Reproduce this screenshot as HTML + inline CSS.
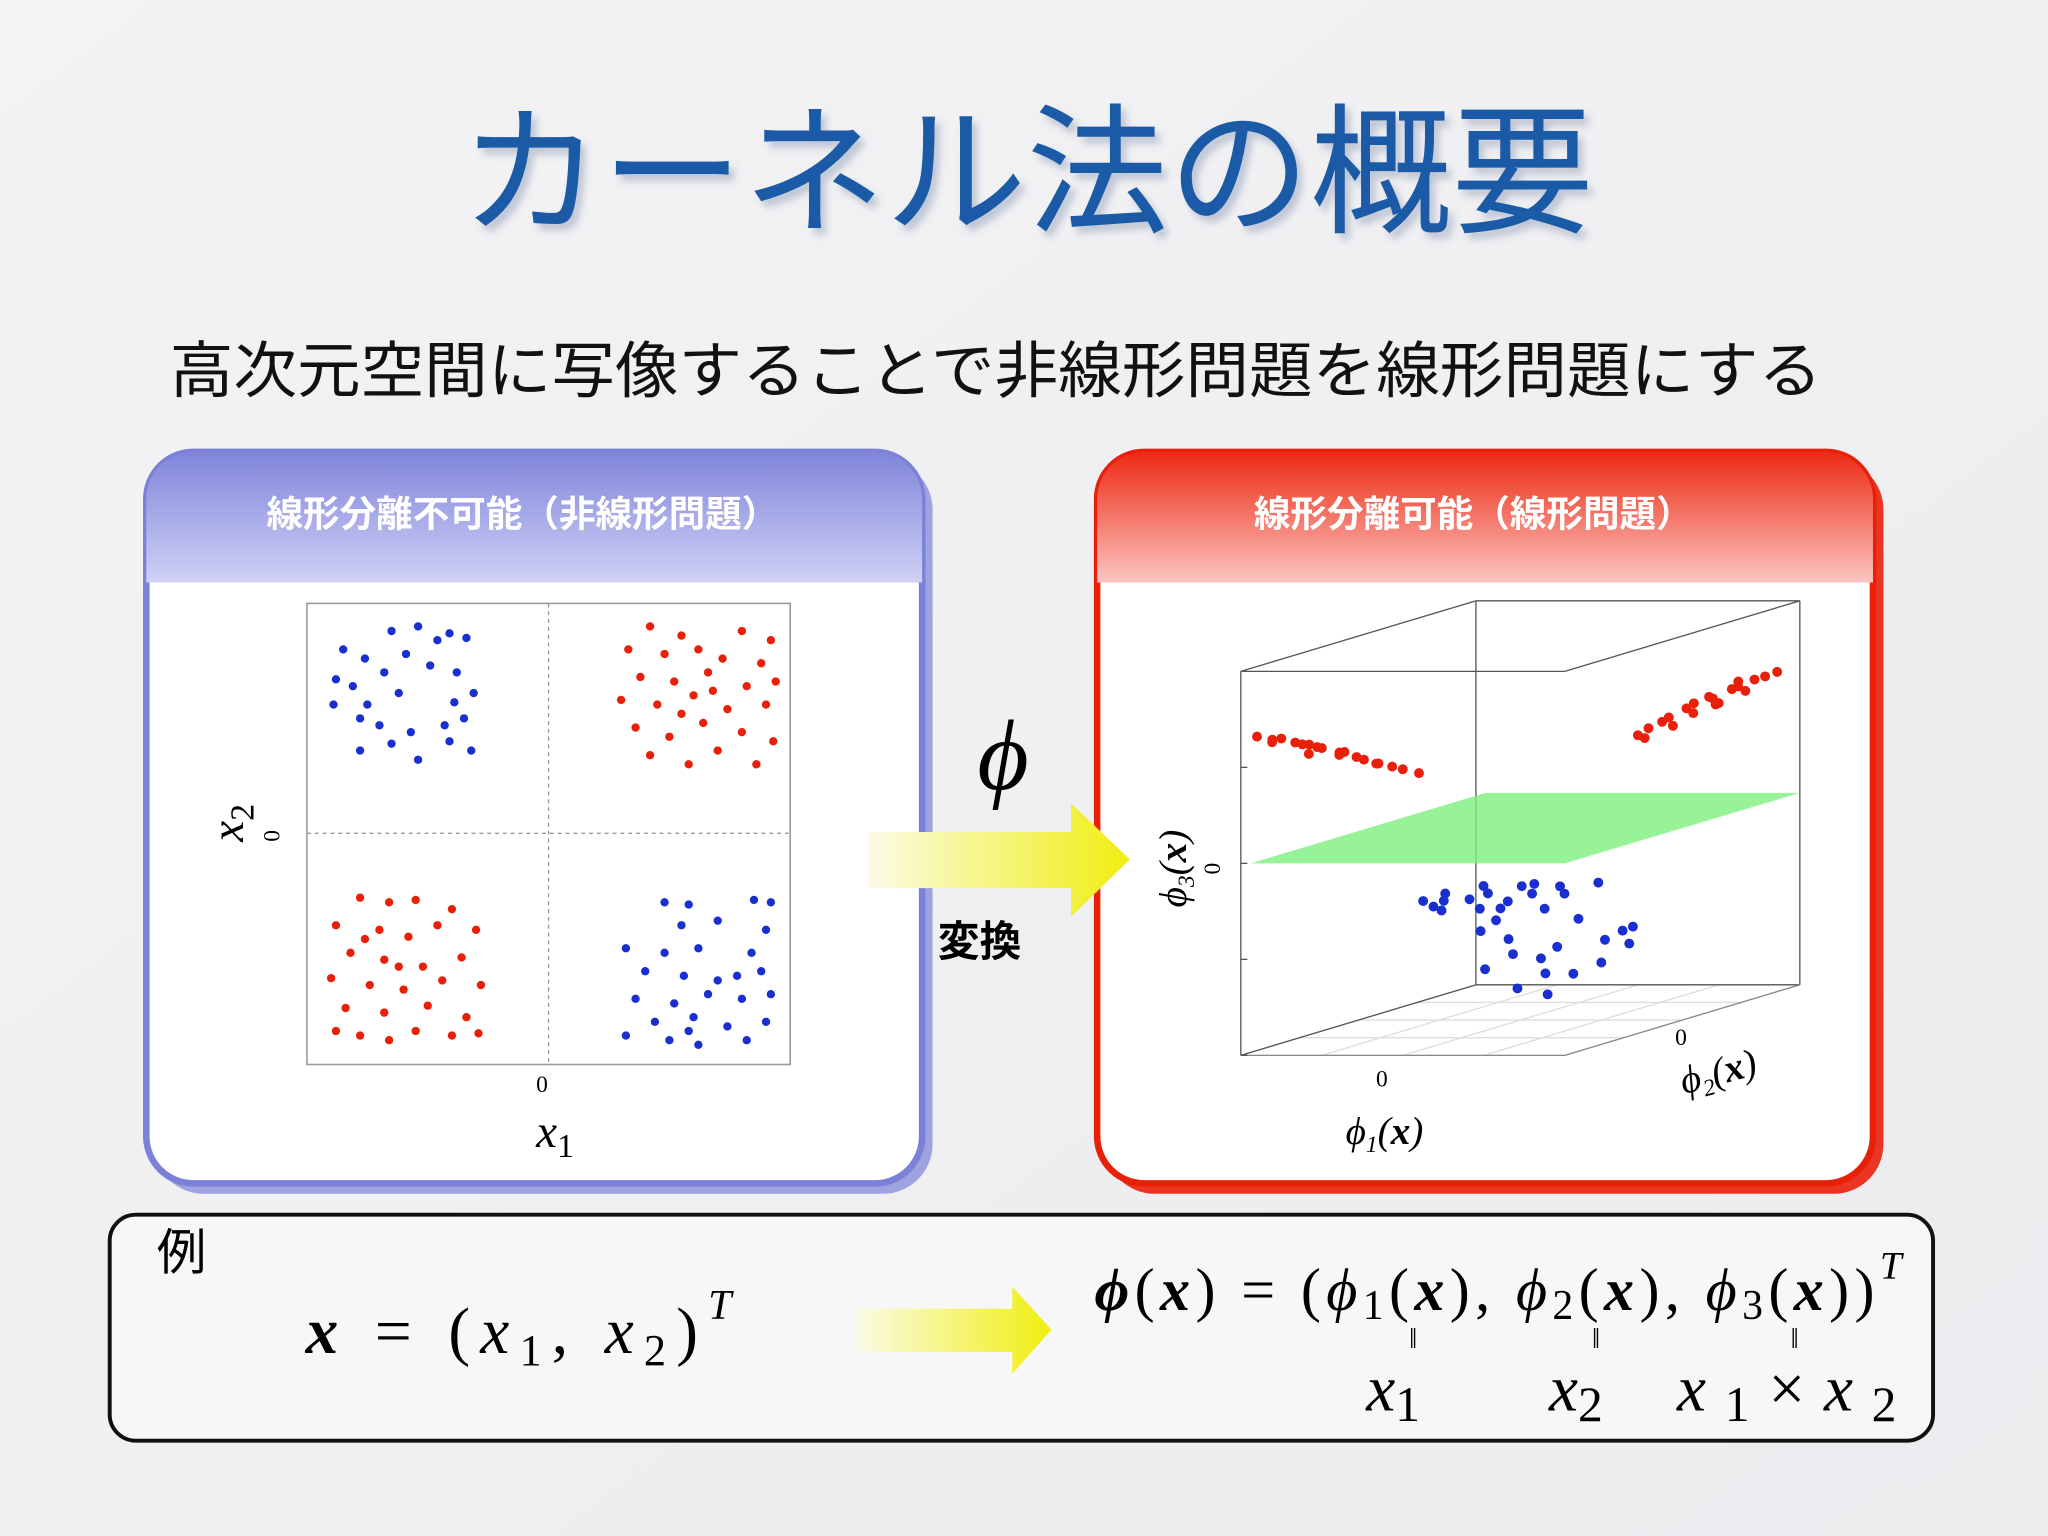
<!DOCTYPE html>
<html><head><meta charset="utf-8"><style>
html,body{margin:0;padding:0;background:#f1f1f3;}
svg{display:block;}
.jp{font-family:"Liberation Sans","Noto Sans CJK JP",sans-serif;}
.m{font-family:"Liberation Serif","DejaVu Serif",serif;font-style:italic;}
.r{font-family:"Liberation Serif","DejaVu Serif",serif;}
</style></head><body>
<svg id="s" width="2048" height="1536" viewBox="0 0 1568 1176" xmlns="http://www.w3.org/2000/svg">
<defs>
<linearGradient id="bg" x1="0" y1="0" x2="1" y2="1"><stop offset="0" stop-color="#f3f3f5"/><stop offset="1" stop-color="#ececef"/></linearGradient>
<linearGradient id="hb" x1="0" y1="0" x2="0" y2="1"><stop offset="0" stop-color="#8085da"/><stop offset="1" stop-color="#cfd1f5"/></linearGradient>
<linearGradient id="hr" x1="0" y1="0" x2="0" y2="1"><stop offset="0" stop-color="#ec2a12"/><stop offset="1" stop-color="#fbc4c0"/></linearGradient>
<linearGradient id="ar" x1="0" y1="0" x2="1" y2="0"><stop offset="0" stop-color="#fbfbe6"/><stop offset="1" stop-color="#f0ee10"/></linearGradient>
<filter id="sh"><feGaussianBlur stdDeviation="3"/></filter>
</defs>
<rect width="1568" height="1176" fill="url(#bg)"/>
<text x="352" y="170" textLength="868" lengthAdjust="spacingAndGlyphs" class="jp" font-size="108" fill="#9aa6bd" opacity="0.6" filter="url(#sh)" transform="translate(4,5)">カーネル法の概要</text>
<text x="352" y="170" textLength="868" lengthAdjust="spacingAndGlyphs" class="jp" font-size="108" fill="#1b5aa6">カーネル法の概要</text>
<text x="130" y="300" textLength="1265" lengthAdjust="spacingAndGlyphs" class="jp" font-size="47" fill="#111">高次元空間に写像することで非線形問題を線形問題にする</text>

<g>
<rect x="118" y="352" width="596" height="562" rx="38" fill="#8a8fd8" opacity="0.8"/>
<rect x="112" y="346" width="594" height="560" rx="36" fill="#fff" stroke="#7b80d8" stroke-width="5"/>
<path d="M112,446 V382 A36,36 0 0 1 148,346 H670 A36,36 0 0 1 706,382 V446 Z" fill="url(#hb)"/>
<text x="400" y="403" text-anchor="middle" class="jp" font-size="28" font-weight="bold" fill="#fff">線形分離不可能（非線形問題）</text>
</g>
<g>
<rect x="846" y="352" width="596" height="562" rx="38" fill="#e8200a" opacity="0.9"/>
<rect x="840" y="346" width="594" height="560" rx="36" fill="#fff" stroke="#e8200a" stroke-width="5"/>
<path d="M840,446 V382 A36,36 0 0 1 876,346 H1398 A36,36 0 0 1 1434,382 V446 Z" fill="url(#hr)"/>
<text x="1128" y="403" text-anchor="middle" class="jp" font-size="28" font-weight="bold" fill="#fff">線形分離可能（線形問題）</text>
</g>

<g id="left-chart">
<rect x="235" y="462" width="370" height="353" fill="#fff" stroke="#999" stroke-width="1.2"/>
<line x1="420" y1="462" x2="420" y2="815" stroke="#999" stroke-dasharray="3,3"/>
<line x1="235" y1="638" x2="605" y2="638" stroke="#999" stroke-dasharray="3,3"/>
<text x="415" y="836" text-anchor="middle" class="r" font-size="18">0</text>
<text x="425" y="878" text-anchor="middle" class="m" font-size="36">x<tspan font-style="normal" font-size="26" dy="8">1</tspan></text>
<text transform="translate(214,640) rotate(-90)" text-anchor="middle" class="r" font-size="18">0</text>
<text transform="translate(186,630) rotate(-90)" text-anchor="middle" class="m" font-size="36">x<tspan font-style="normal" font-size="26" dy="8">2</tspan></text>
</g>

<g id="right-chart"></g>

<g>
<polygon points="665,637 820,637 820,615 865,658 820,702 820,680 665,680" fill="url(#ar)"/>
<text x="768" y="604" text-anchor="middle" class="m" font-size="76">ϕ</text>
<text x="750" y="732" text-anchor="middle" class="jp" font-size="32" font-weight="bold">変換</text>
</g>

<g>
<rect x="84" y="930" width="1396" height="173" rx="20" fill="#f7f7f9" stroke="#111" stroke-width="3"/>
<text x="120" y="972" class="jp" font-size="38">例</text>
<text x="234" y="1036" textLength="326" lengthAdjust="spacing" class="m" font-size="50"><tspan font-weight="bold">x</tspan><tspan font-style="normal"> = (</tspan>x<tspan font-style="normal" font-size="34" dy="9">1</tspan><tspan font-style="normal" dy="-9">, </tspan>x<tspan font-style="normal" font-size="34" dy="9">2</tspan><tspan font-style="normal" dy="-9">)</tspan><tspan font-size="32" dy="-26">T</tspan></text>
<polygon points="655,1002 775,1002 775,985 805,1018 775,1052 775,1035 655,1035" fill="url(#ar)"/>
<text x="838" y="1003" textLength="618" lengthAdjust="spacing" class="m" font-size="46"><tspan font-weight="bold">ϕ</tspan><tspan font-style="normal">(</tspan><tspan font-weight="bold">x</tspan><tspan font-style="normal">) = (</tspan>ϕ<tspan font-style="normal" font-size="32" dy="7">1</tspan><tspan font-style="normal" dy="-7">(</tspan><tspan font-weight="bold">x</tspan><tspan font-style="normal">), </tspan>ϕ<tspan font-style="normal" font-size="32" dy="7">2</tspan><tspan font-style="normal" dy="-7">(</tspan><tspan font-weight="bold">x</tspan><tspan font-style="normal">), </tspan>ϕ<tspan font-style="normal" font-size="32" dy="7">3</tspan><tspan font-style="normal" dy="-7">(</tspan><tspan font-weight="bold">x</tspan><tspan font-style="normal">))</tspan><tspan font-size="30" dy="-24">T</tspan></text>
<text x="1082" y="1032" text-anchor="middle" class="r" font-size="22">‖</text>
<text x="1222" y="1032" text-anchor="middle" class="r" font-size="22">‖</text>
<text x="1374" y="1032" text-anchor="middle" class="r" font-size="22">‖</text>
<text x="1046" y="1080" class="m" font-size="50">x<tspan font-style="normal" font-size="38" dy="8">1</tspan></text>
<text x="1186" y="1080" class="m" font-size="50">x<tspan font-style="normal" font-size="38" dy="8">2</tspan></text>
<text x="1284" y="1080" textLength="168" lengthAdjust="spacing" class="m" font-size="50">x<tspan font-style="normal" font-size="38" dy="8">1</tspan><tspan font-style="normal" dy="-8">×</tspan>x<tspan font-style="normal" font-size="38" dy="8">2</tspan></text>
</g>
</svg>
<script>
const blueTL=[[-0.65,0.88],[-0.54,0.90],[-0.41,0.87],[-0.34,0.85],[-0.85,0.80],[-0.76,0.76],[-0.68,0.70],[-0.88,0.67],[-0.81,0.64],[-0.62,0.61],[-0.49,0.73],[-0.38,0.70],[-0.31,0.61],[-0.78,0.50],[-0.70,0.47],[-0.57,0.44],[-0.43,0.47],[-0.35,0.50],[-0.32,0.36],[-0.78,0.36],[-0.65,0.39],[-0.54,0.32],[-0.41,0.40],[-0.89,0.56],[-0.59,0.78],[-0.46,0.84],[-0.75,0.56],[-0.39,0.57]];
const redTR=[[0.42,0.90],[0.55,0.86],[0.80,0.88],[0.92,0.84],[0.33,0.80],[0.48,0.78],[0.62,0.80],[0.72,0.76],[0.88,0.74],[0.38,0.68],[0.52,0.66],[0.66,0.70],[0.82,0.64],[0.94,0.66],[0.30,0.58],[0.45,0.56],[0.60,0.60],[0.74,0.54],[0.90,0.56],[0.36,0.46],[0.50,0.42],[0.64,0.48],[0.80,0.44],[0.93,0.40],[0.42,0.34],[0.58,0.30],[0.70,0.36],[0.86,0.30],[0.55,0.52],[0.68,0.62]];
const redBL=[[-0.78,-0.28],[-0.66,-0.30],[-0.55,-0.29],[-0.40,-0.33],[-0.88,-0.40],[-0.70,-0.42],[-0.58,-0.45],[-0.46,-0.40],[-0.30,-0.42],[-0.82,-0.52],[-0.68,-0.55],[-0.52,-0.58],[-0.36,-0.54],[-0.90,-0.63],[-0.74,-0.66],[-0.60,-0.68],[-0.44,-0.64],[-0.28,-0.66],[-0.84,-0.76],[-0.68,-0.78],[-0.50,-0.75],[-0.34,-0.80],[-0.88,-0.86],[-0.78,-0.88],[-0.66,-0.90],[-0.55,-0.86],[-0.40,-0.88],[-0.29,-0.87],[-0.62,-0.58],[-0.76,-0.46]];
const blueBR=[[0.48,-0.30],[0.58,-0.31],[0.85,-0.29],[0.92,-0.30],[0.55,-0.40],[0.70,-0.38],[0.90,-0.42],[0.32,-0.50],[0.48,-0.52],[0.62,-0.50],[0.84,-0.52],[0.40,-0.60],[0.56,-0.62],[0.70,-0.64],[0.88,-0.60],[0.36,-0.72],[0.52,-0.74],[0.66,-0.70],[0.80,-0.72],[0.92,-0.70],[0.44,-0.82],[0.58,-0.86],[0.74,-0.84],[0.90,-0.82],[0.32,-0.88],[0.50,-0.90],[0.62,-0.92],[0.82,-0.90],[0.60,-0.80],[0.78,-0.62]];
const red3dA=[[-0.9,-1,0.66],[-0.82,-0.98,0.64],[-0.75,-1,0.65],[-0.7,-0.95,0.62],[-0.62,-1,0.62],[-0.55,-0.97,0.60],[-0.5,-1,0.60],[-0.42,-0.96,0.57],[-0.36,-1,0.58],[-0.3,-0.98,0.55],[-0.24,-1,0.54],[-0.15,-1,0.52],[-0.08,-0.98,0.50],[0.0,-1,0.49],[0.1,-1,0.47],[-0.65,-0.9,0.60],[-0.45,-0.92,0.55],[-0.2,-0.95,0.51],[-0.85,-0.94,0.62],[-0.58,-1,0.57]];
const red3dB=[[0.0,1,0.30],[0.08,0.98,0.34],[0.15,1,0.37],[0.22,0.96,0.40],[0.3,1,0.44],[0.36,0.98,0.47],[0.44,1,0.50],[0.5,0.95,0.50],[0.58,1,0.54],[0.64,0.97,0.56],[0.72,1,0.59],[0.8,0.98,0.61],[0.86,1,0.63],[0.1,0.92,0.30],[0.26,0.94,0.36],[0.4,0.92,0.43],[0.55,0.93,0.48],[0.7,0.95,0.54],[0.48,1,0.46],[0.62,1,0.58]];
const blue3d=[[-0.6,0,-0.38],[-0.5,0.05,-0.35],[-0.4,-0.1,-0.36],[-0.3,0.1,-0.32],[-0.2,0,-0.34],[-0.1,0.15,-0.33],[0.0,0.1,-0.36],[0.1,0.2,-0.34],[0.2,0.1,-0.36],[0.3,0.25,-0.33],[-0.45,-0.05,-0.42],[-0.25,0.0,-0.42],[-0.05,-0.1,-0.40],[0.15,0.0,-0.42],[-0.1,-0.2,-0.5],[0.0,-0.1,-0.56],[0.1,-0.2,-0.62],[0.2,-0.1,-0.66],[0.3,-0.2,-0.72],[0.4,-0.1,-0.74],[0.5,0.0,-0.7],[0.6,0.1,-0.62],[0.55,0.2,-0.55],[0.2,-0.3,-0.78],[0.35,-0.25,-0.82],[0.45,0.1,-0.6],[0.0,-0.3,-0.68],[-0.15,0,-0.48],[0.25,0.15,-0.5],[0.45,0.25,-0.58],[-0.35,0.05,-0.38],[-0.15,0.1,-0.4],[0.05,0.05,-0.3],[-0.5,-0.05,-0.4],[0.3,-0.1,-0.6]];
const planeLevel=[0];
const NS='http://www.w3.org/2000/svg';
function mk(tag,attrs,parent){const e=document.createElementNS(NS,tag);for(const k in attrs)e.setAttribute(k,attrs[k]);parent.appendChild(e);return e;}
const sx=v=>420+v*185, sy=v=>638-v*176;
const L=document.getElementById('left-chart');
[[blueTL,'#1a2fd0','blue'],[redTR,'#e8200a','red'],[redBL,'#e8200a','red'],[blueBR,'#1a2fd0','blue']].forEach(([arr,c,n])=>{
 arr.forEach(p=>{const d=mk('circle',{cx:sx(p[0]),cy:sy(p[1]),r:3.2,fill:c},L);
 
 });
});
const px=(a,b,c)=>950+(a+1)/2*248+(b+1)/2*180;
const py=(a,b,c)=>808-(c+1)/2*294-(b+1)/2*54;
const R=document.getElementById('right-chart');
const ln=(p,q,col,w)=>mk('line',{x1:px(...p),y1:py(...p),x2:px(...q),y2:py(...q),stroke:col||'#555','stroke-width':w||1},R);
for(let i=-1;i<=1.001;i+=0.5){ln([i,-1,-1],[i,1,-1],'#ddd');ln([-1,i,-1],[1,i,-1],'#ddd');}
ln([-1,1,-1],[-1,1,1]);ln([-1,1,1],[1,1,1]);ln([1,1,-1],[1,1,1]);ln([-1,1,-1],[1,1,-1]);
ln([-1,-1,-1],[-1,1,-1]);
const dots=(arr,c,n)=>arr.forEach(p=>{const d=mk('circle',{cx:px(...p),cy:py(...p),r:3.8,fill:c},R);
 
 });
dots(red3dA,'#e8200a','red-3d-point');
dots(red3dB,'#e8200a','red-3d-point');
const z=planeLevel[0];
const pts=[[-0.94,-1,z],[1,-1,z],[1,1,z],[-0.94,1,z]].map(p=>px(...p)+','+py(...p)).join(' ');
const pl=mk('polygon',{points:pts,fill:'#7ef07e',opacity:0.8},R);


dots(blue3d,'#1a2fd0','blue-3d-point');
ln([-1,-1,-1],[-1,-1,1]);ln([-1,-1,1],[1,-1,1]);ln([1,-1,1],[1,1,1]);ln([-1,-1,1],[-1,1,1]);
ln([-1,-1,-1],[1,-1,-1],'#888');ln([1,-1,-1],[1,1,-1],'#888');
for(let i=-1;i<=1.001;i+=0.5){const a=[-1,-1,i];mk('line',{x1:px(...a),y1:py(...a),x2:px(...a)+5,y2:py(...a),stroke:'#555'},R);}
const t=(x,y,s,fs,rot,cls,n)=>{const e=mk('text',{x:0,y:0,'font-size':fs,'text-anchor':'middle',class:cls,transform:`translate(${x},${y}) rotate(${rot})`},R);e.innerHTML=s;
 
 };
t(1058,832,'0',18,0,'r','phi1-zero-tick');
t(1060,876,'ϕ<tspan font-size="18" dy="6">1</tspan><tspan dy="-6">(</tspan><tspan font-weight="bold">x</tspan>)',30,0,'m','phi1-axis-title');
t(1287,800,'0',18,0,'r','phi2-zero-tick');
t(1318,830,'ϕ<tspan font-size="18" dy="6">2</tspan><tspan dy="-6">(</tspan><tspan font-weight="bold">x</tspan>)',30,-15,'m','phi2-axis-title');
t(934,665,'0',18,-90,'r','phi3-zero-tick');
t(908,665,'ϕ<tspan font-size="18" dy="6">3</tspan><tspan dy="-6">(</tspan><tspan font-weight="bold">x</tspan>)',30,-90,'m','phi3-axis-title');
</script>
</body></html>
